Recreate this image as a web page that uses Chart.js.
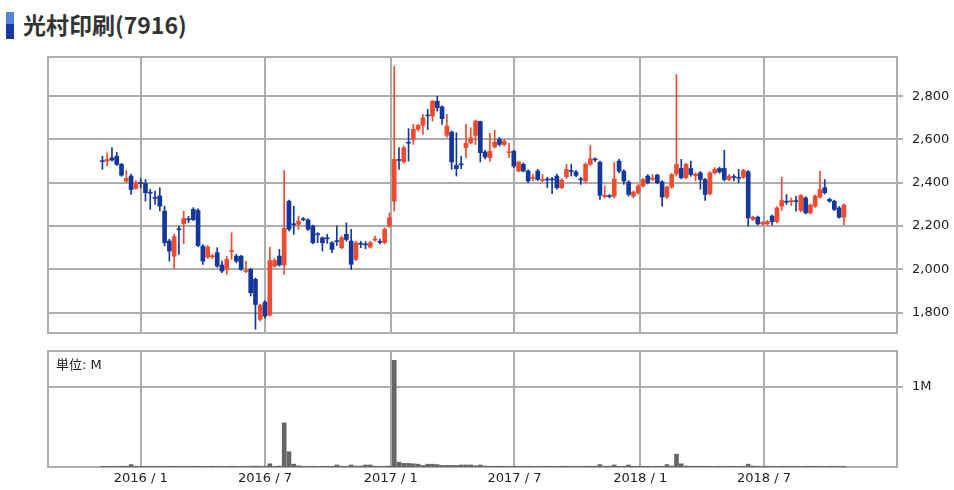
<!DOCTYPE html>
<html>
<head>
<meta charset="utf-8">
<script src="https://cdn.jsdelivr.net/npm/chart.js@4"></script>
<style>
body{margin:0;background:#fff;width:954px;height:490px;overflow:hidden;position:relative;font-family:"DejaVu Sans","Noto Sans CJK JP",sans-serif}
#icon{position:absolute;left:6px;top:12px;width:8px;height:27px;background:linear-gradient(#5a84dc 0,#5a84dc 45%,#1838a4 45%,#1838a4 100%)}
#title{position:absolute;left:23px;top:12px;font:bold 23px/24px "Noto Sans CJK JP",sans-serif;color:#333}
#c1{position:absolute;left:0;top:0}
#c2{position:absolute;left:0;top:340px}
#unit{position:absolute;left:56px;top:354px;font-size:13px;color:#222}
</style>
</head>
<body>
<div id="icon"></div>
<div id="title">光村印刷(7916)</div>
<canvas id="c1" width="954" height="340"></canvas>
<canvas id="c2" width="954" height="150"></canvas>
<div id="unit">単位: M</div>
<script>
// weekly candles, dated by the Friday of each week
const dates = [
'2015-11-06','2015-11-13','2015-11-20','2015-11-27','2015-12-04','2015-12-11','2015-12-18','2015-12-25',
'2016-01-01','2016-01-08','2016-01-15','2016-01-22','2016-01-29','2016-02-05','2016-02-12','2016-02-19','2016-02-26',
'2016-03-04','2016-03-11','2016-03-18','2016-03-25','2016-04-01','2016-04-08','2016-04-15','2016-04-22','2016-04-29',
'2016-05-06','2016-05-13','2016-05-20','2016-05-27','2016-06-03','2016-06-10','2016-06-17','2016-06-24',
'2016-07-01','2016-07-08','2016-07-15','2016-07-22','2016-07-29','2016-08-05','2016-08-12','2016-08-19','2016-08-26',
'2016-09-02','2016-09-09','2016-09-16','2016-09-23','2016-09-30','2016-10-07','2016-10-14','2016-10-21','2016-10-28',
'2016-11-04','2016-11-11','2016-11-18','2016-11-25','2016-12-02','2016-12-09','2016-12-16','2016-12-23','2016-12-30',
'2017-01-06','2017-01-13','2017-01-20','2017-01-27','2017-02-03','2017-02-10','2017-02-17','2017-02-24',
'2017-03-03','2017-03-10','2017-03-17','2017-03-24','2017-03-31','2017-04-07','2017-04-14','2017-04-21','2017-04-28',
'2017-05-05','2017-05-12','2017-05-19','2017-05-26','2017-06-02','2017-06-09','2017-06-16','2017-06-23','2017-06-30',
'2017-07-07','2017-07-14','2017-07-21','2017-07-28','2017-08-04','2017-08-11','2017-08-18','2017-08-25',
'2017-09-01','2017-09-08','2017-09-15','2017-09-22','2017-09-29','2017-10-06','2017-10-13','2017-10-20','2017-10-27',
'2017-11-03','2017-11-10','2017-11-17','2017-11-24','2017-12-01','2017-12-08','2017-12-15','2017-12-22','2017-12-29',
'2018-01-05','2018-01-12','2018-01-19','2018-01-26','2018-02-02','2018-02-09','2018-02-16','2018-02-23',
'2018-03-02','2018-03-09','2018-03-16','2018-03-23','2018-03-30','2018-04-06','2018-04-13','2018-04-20','2018-04-27',
'2018-05-04','2018-05-11','2018-05-18','2018-05-25','2018-06-01','2018-06-08','2018-06-15','2018-06-22','2018-06-29',
'2018-07-06','2018-07-13','2018-07-20','2018-07-27','2018-08-03','2018-08-10','2018-08-17','2018-08-24','2018-08-31',
'2018-09-07','2018-09-14','2018-09-21','2018-09-28','2018-10-05','2018-10-12','2018-10-19','2018-10-26'
];
const open = [
2502,2500,2515,2523,2485,2408,2431,2374,2400,2397,
2356,2332,2339,2269,2131,2061,2187,2211,2233,2277,
2272,2107,2057,2058,2077,2020,2000,2082,2061,2061,
1990,2000,1954,1769,1849,1789,2015,2061,2020,2315,
2210,2208,2233,2228,2200,2164,2146,2145,2123,2132,
2100,2162,2131,2046,2120,2117,2103,2135,2129,2123,
2200,2315,2507,2496,2587,2600,2647,2665,2713,2708,
2777,2751,2619,2634,2480,2487,2562,2585,2619,2683,
2542,2516,2566,2600,2577,2539,2546,2454,2485,2454,
2420,2454,2410,2417,2417,2431,2377,2428,2456,2450,
2418,2408,2485,2510,2495,2336,2340,2338,2500,2454,
2403,2338,2354,2385,2431,2416,2435,2404,2334,2380,
2440,2466,2423,2466,2432,2446,2415,2349,2446,2466,
2466,2415,2428,2425,2426,2451,2231,2241,2210,2210,
2246,2220,2292,2314,2312,2317,2272,2330,2261,2292,
2334,2377,2323,2315,2284,2241
];
const high = [
2523,2538,2562,2540,2490,2457,2440,2410,2419,2415,
2370,2362,2377,2292,2140,2162,2200,2269,2245,2285,
2280,2115,2110,2070,2100,2038,2061,2169,2070,2065,
2038,2005,1960,1840,1855,2103,2050,2092,2457,2320,
2292,2246,2240,2235,2205,2170,2150,2162,2128,2200,
2155,2215,2185,2130,2130,2128,2130,2154,2140,2192,
2260,2939,2562,2570,2650,2670,2670,2716,2739,2780,
2800,2755,2716,2640,2631,2523,2670,2654,2690,2685,
2550,2628,2643,2610,2600,2582,2550,2500,2492,2460,
2440,2462,2438,2425,2425,2440,2418,2485,2485,2458,
2425,2492,2572,2515,2500,2385,2346,2495,2508,2460,
2410,2362,2392,2420,2438,2438,2440,2410,2385,2443,
2900,2508,2490,2500,2446,2452,2420,2452,2470,2472,
2550,2438,2438,2462,2462,2457,2246,2246,2222,2226,
2252,2290,2426,2346,2330,2338,2346,2336,2302,2344,
2454,2415,2330,2320,2290,2302
];
const low = [
2462,2477,2500,2480,2430,2400,2346,2370,2377,2315,
2277,2300,2270,2108,2038,2004,2069,2118,2215,2225,
2105,2023,2050,2050,2010,1985,1977,2046,2030,1995,
1985,1877,1723,1761,1775,1784,2010,2015,1977,2178,
2162,2185,2225,2180,2118,2123,2085,2120,2077,2110,
2095,2130,2000,2040,2100,2095,2098,2130,2118,2118,
2195,2269,2462,2490,2500,2577,2640,2623,2646,2685,
2731,2670,2610,2462,2431,2465,2516,2580,2577,2496,
2510,2500,2560,2570,2570,2516,2470,2450,2450,2400,
2408,2410,2405,2377,2350,2370,2372,2420,2431,2428,
2392,2400,2480,2498,2323,2330,2330,2330,2446,2392,
2338,2330,2348,2380,2395,2410,2395,2292,2328,2375,
2430,2418,2418,2430,2408,2370,2318,2344,2440,2444,
2408,2410,2408,2400,2420,2200,2226,2205,2204,2205,
2204,2215,2272,2300,2295,2269,2266,2256,2256,2286,
2328,2348,2310,2272,2236,2207
];
const close = [
2498,2508,2505,2485,2435,2420,2369,2400,2396,2354,
2352,2328,2292,2123,2085,2151,2183,2235,2229,2230,
2110,2038,2103,2062,2015,1992,2046,2088,2038,2000,
1995,1892,1838,1835,1784,2041,2041,2020,2189,2185,
2206,2223,2229,2185,2123,2160,2123,2141,2092,2128,
2146,2138,2023,2123,2116,2113,2123,2140,2125,2185,
2238,2508,2503,2562,2583,2647,2665,2700,2709,2777,
2747,2696,2662,2496,2465,2483,2582,2608,2685,2539,
2519,2546,2588,2577,2592,2543,2477,2495,2454,2408,
2425,2415,2415,2413,2413,2377,2412,2462,2452,2434,
2413,2485,2511,2506,2342,2342,2336,2418,2454,2408,
2346,2357,2385,2415,2400,2422,2400,2334,2380,2438,
2485,2423,2485,2438,2440,2415,2346,2446,2462,2450,
2415,2431,2424,2421,2457,2238,2241,2210,2216,2220,
2220,2284,2318,2310,2318,2313,2342,2261,2297,2338,
2369,2354,2315,2277,2241,2297
];
const volume = [
8000,7000,9000,8000,10000,9000,30000,9000,8000,9000,
8000,10000,9000,8000,9000,10000,8000,9000,8000,10000,
9000,8000,9000,10000,8000,9000,8000,10000,9000,8000,
9000,10000,12000,10000,9000,40000,9000,12000,550000,190000,
35000,15000,10000,9000,10000,8000,9000,10000,9000,25000,
10000,9000,25000,12000,12000,25000,25000,10000,9000,10000,
12000,1330000,60000,45000,45000,40000,35000,20000,35000,35000,
30000,20000,20000,20000,20000,25000,25000,25000,15000,25000,
12000,10000,9000,10000,9000,10000,9000,8000,9000,10000,
9000,8000,9000,10000,9000,8000,9000,10000,9000,8000,
9000,10000,9000,10000,30000,9000,10000,25000,9000,10000,
25000,9000,10000,9000,10000,8000,9000,10000,30000,12000,
160000,40000,12000,10000,9000,10000,9000,10000,9000,10000,
9000,10000,9000,8000,10000,35000,12000,10000,9000,10000,
9000,8000,10000,9000,10000,9000,8000,10000,9000,10000,
9000,8000,10000,9000,8000,9000
];
const priceTicks = [1800, 2000, 2200, 2400, 2600, 2800];
const volumeTicks = [1000000];
const monthTicks = ['2016-01-01','2016-07-01','2017-01-01','2017-07-01','2018-01-01','2018-07-01'];
const monthLabels = ['2016 / 1','2016 / 7','2017 / 1','2017 / 7','2018 / 1','2018 / 7'];

const UP = '#f24a2e', DOWN = '#13379e', GRID = '#adadad';
const t0 = Date.parse('2016-01-01');
const day = d => (Date.parse(d) - t0) / 864e5;
const X_MIN = -135.6, X_MAX = 1106.7;
const colors = open.map((o, i) => close[i] > o ? UP : DOWN);

const frame = {
  id: 'frame',
  beforeDatasetsDraw(chart) {
    const a = chart.chartArea, ctx = chart.ctx;
    ctx.save();
    ctx.strokeStyle = GRID;
    ctx.lineWidth = 2;
    ctx.strokeRect(a.left, a.top, a.right - a.left, a.bottom - a.top);
    ctx.restore();
  }
};

const xAxis = (showLabels) => ({
  type: 'linear', min: X_MIN, max: X_MAX, offset: false,
  afterBuildTicks: s => { s.ticks = monthTicks.map(d => ({value: day(d)})); },
  grid: {color: GRID, lineWidth: 2, drawTicks: false, offset: false},
  border: {display: false},
  ticks: {
    display: showLabels, autoSkip: false, maxRotation: 0, padding: 4,
    color: '#222', font: {family: 'DejaVu Sans', size: 13},
    callback: (v, i) => monthLabels[i]
  },
  afterFit: s => { s.height = showLabels ? 23 : 0; s.paddingLeft = 0; s.paddingRight = 0; }
});

const yAxis = (min, max, ticks, fmt) => ({
  position: 'right', min: min, max: max,
  afterBuildTicks: s => { s.ticks = ticks.map(v => ({value: v})); },
  grid: {color: GRID, lineWidth: 2, tickLength: 6},
  border: {display: false},
  ticks: {padding: 9, color: '#222', font: {family: 'DejaVu Sans', size: 13}, callback: fmt},
  afterFit: s => { s.width = 57; s.paddingTop = 0; s.paddingBottom = 0; }
});

new Chart(document.getElementById('c1'), {
  type: 'bar',
  data: {
    datasets: [
      {data: dates.map((d, i) => ({x: day(d), y: [low[i], high[i]]})), backgroundColor: colors, barThickness: 1, grouped: false, order: 2},
      {data: dates.map((d, i) => ({x: day(d), y: [open[i], close[i]]})), backgroundColor: colors, barThickness: 4, grouped: false, minBarLength: 1, order: 1}
    ]
  },
  options: {
    responsive: false, animation: false,
    layout: {padding: {left: 48, top: 57, bottom: 7, right: 0}},
    plugins: {legend: {display: false}, tooltip: {enabled: false}},
    scales: {
      x: xAxis(false),
      y: yAxis(1706, 2981, priceTicks, v => v.toLocaleString('en-US'))
    }
  },
  plugins: [frame]
});

new Chart(document.getElementById('c2'), {
  type: 'bar',
  data: {
    datasets: [
      {data: dates.map((d, i) => ({x: day(d), y: volume[i]})), backgroundColor: '#666666', barThickness: 4}
    ]
  },
  options: {
    responsive: false, animation: false,
    layout: {padding: {left: 48, top: 11, bottom: 0, right: 0}},
    plugins: {legend: {display: false}, tooltip: {enabled: false}},
    scales: {
      x: xAxis(true),
      y: yAxis(0, 1446000, volumeTicks, v => (v / 1000000) + 'M')
    }
  },
  plugins: [frame]
});
</script>
</body>
</html>
